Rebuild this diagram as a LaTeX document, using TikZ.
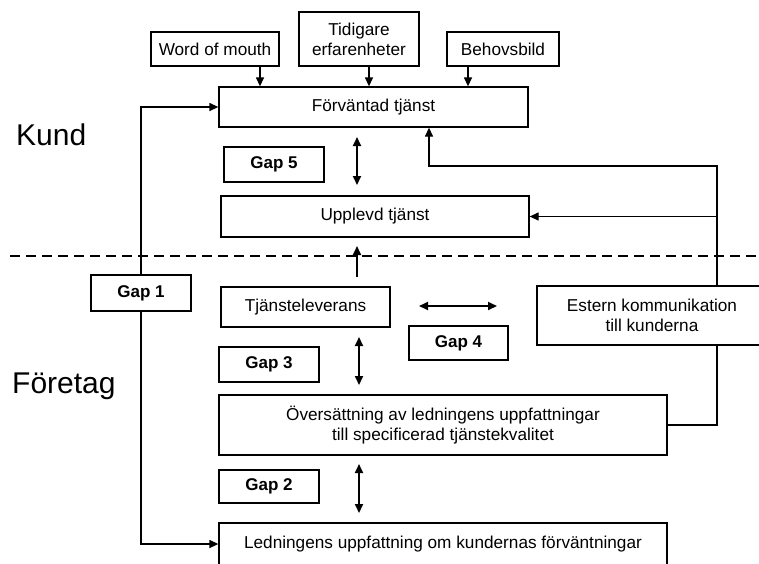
\documentclass[tikz,border=0pt]{standalone}
\usepackage{fontspec}
\setmainfont{Liberation Sans}
\usetikzlibrary{arrows.meta}
\begin{document}
\begin{tikzpicture}[x=1pt,y=-1pt,
  box/.style={draw, line width=1.3pt, fill=white, inner sep=0pt, align=center,
              font=\fontsize{17.2}{20}\selectfont},
  gapbox/.style={box, font=\fontsize{17}{20}\selectfont\bfseries},
  conn/.style={line width=1.3pt, -{Triangle[length=9pt,width=8pt]}},
  dbl/.style={line width=1.8pt, {Triangle[length=9pt,width=8pt]}-{Triangle[length=9pt,width=8pt]}},
  big/.style={font=\fontsize{30}{34}\selectfont, inner sep=0pt, anchor=base west}]
\useasboundingbox (0,0) rectangle (759,563);
\clip (0,0) rectangle (759,563);

% dashed divider
\coordinate (dl) at (10,256);
\coordinate (dr) at (759,256);
\draw[line width=1.4pt, dash pattern=on 10pt off 6pt] (dl) -- (dr);

% side labels
\node[big] (kund) at (16,145) {Kund};
\node[big] (foretag) at (12,393) {Företag};

% boxes
\node[box, minimum width=128pt, minimum height=34pt] (wom) at (215,49) {Word of mouth};
\node[box, minimum width=120pt, minimum height=54pt] (tid) at (359,39) {Tidigare\\erfarenheter};
\node[box, minimum width=112pt, minimum height=34pt] (beh) at (503,49) {Behovsbild};
\node[box, minimum width=309pt, minimum height=40pt] (forv) at (373.5,107) {Förväntad tjänst};
\node[box, minimum width=308pt, minimum height=41pt] (upp) at (375,216.5) {Upplevd tjänst};
\node[box, minimum width=169pt, minimum height=40pt] (tjl) at (305.5,307) {Tjänsteleverans};
\node[box, minimum width=448pt, minimum height=60pt] (ovs) at (443,425) {Översättning av ledningens uppfattningar\\till specificerad tjänstekvalitet};
\node[box, minimum width=448pt, minimum height=42pt] (led) at (443,544) {Ledningens uppfattning om kundernas förväntningar};

% connectors from top boxes
\coordinate (a1) at (260,0);
\coordinate (a2) at (369,0);
\coordinate (a3) at (468,0);
\draw[conn] (wom.south -| a1) -- (forv.north -| a1);
\draw[conn] (tid.south -| a2) -- (forv.north -| a2);
\draw[conn] (beh.south -| a3) -- (forv.north -| a3);

% Gap 1 loop
\coordinate (g1x) at (141,293);
\draw[line width=1.3pt, {Triangle[length=9pt,width=8pt]}-{Triangle[length=9pt,width=8pt]}]
  (forv.west) -| (g1x) |- (led.west);

% external communication connectors
\coordinate (c1) at (717,166);
\coordinate (c2) at (429,166);
\draw[conn] (ovs.east) -| (c1) -- (c2) -- (c2 |- forv.south);
\draw[conn] (upp.east -| c1) -- (upp.east);
\node[box, minimum width=230pt, minimum height=59pt] (est) at (652,315.5) {Estern kommunikation\\till kunderna};

% gap boxes
\node[gapbox, minimum width=100pt, minimum height=36pt] (gap1) at (g1x) {Gap 1};
\node[gapbox, minimum width=100pt, minimum height=35pt] (gap5) at (274,164.5) {Gap 5};
\node[gapbox, minimum width=99pt, minimum height=34pt] (gap4) at (458.5,343) {Gap 4};
\node[gapbox, minimum width=100pt, minimum height=35pt] (gap3) at (269,364.5) {Gap 3};
\node[gapbox, minimum width=100pt, minimum height=33pt] (gap2) at (269,486.5) {Gap 2};

% gap arrows
\coordinate (g5t) at (357,137);
\coordinate (g5b) at (357,185);
\draw[dbl] (g5t) -- (g5b);
\coordinate (tu1) at (357,277);
\coordinate (tu2) at (357,246);
\draw[line width=1.8pt, -{Triangle[length=9pt,width=8pt]}] (tu1) -- (tu2);
\coordinate (g4l) at (419,306);
\coordinate (g4r) at (497,306);
\draw[dbl] (g4l) -- (g4r);
\coordinate (g3t) at (359,337);
\coordinate (g3b) at (359,385);
\draw[dbl] (g3t) -- (g3b);
\coordinate (g2t) at (359,464);
\coordinate (g2b) at (359,513);
\draw[dbl] (g2t) -- (g2b);
\end{tikzpicture}
\end{document}
